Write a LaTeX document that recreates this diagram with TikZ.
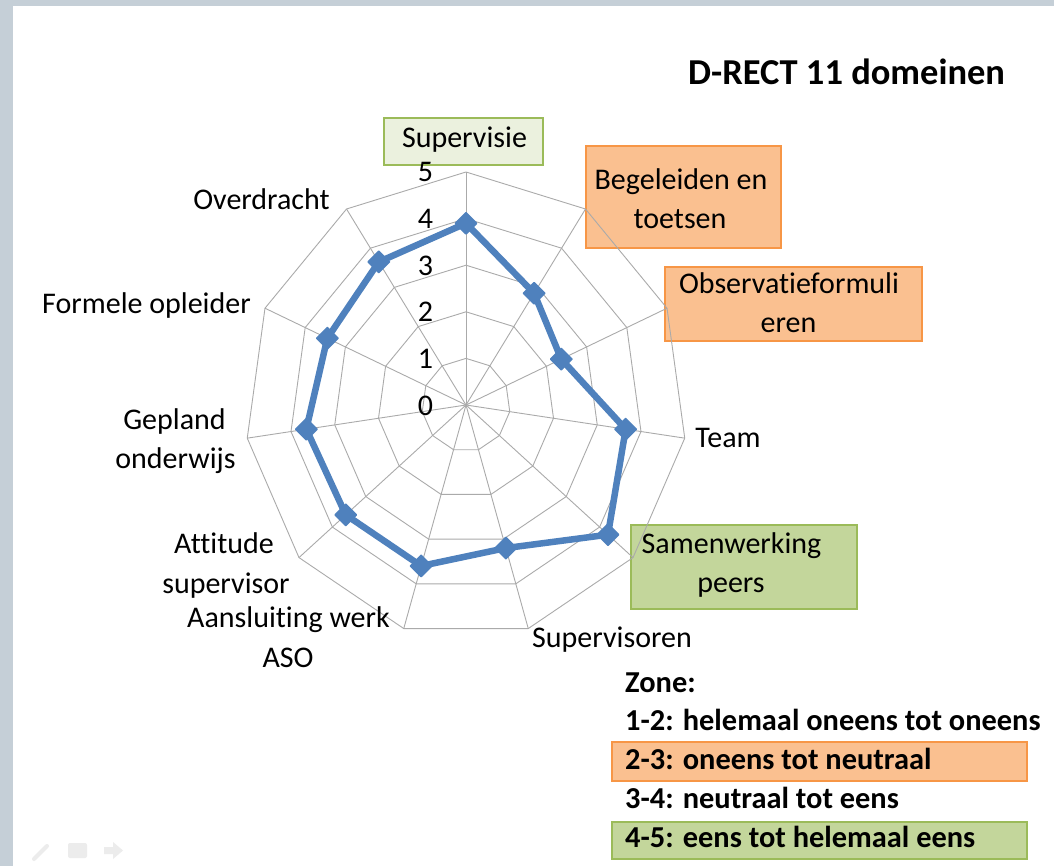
\documentclass[tikz,border=0pt]{standalone}
\usepackage{fontspec}
\setmainfont{Carlito}[RawFeature=-liga]
\usetikzlibrary{shapes.geometric}
\definecolor{frame}{RGB}{197,207,215}
\definecolor{gridc}{RGB}{170,170,170}
\definecolor{serie}{RGB}{79,129,189}
\definecolor{orfill}{RGB}{250,192,144}
\definecolor{ordraw}{RGB}{247,150,70}
\definecolor{grfill}{RGB}{195,214,155}
\definecolor{grlight}{RGB}{235,241,222}
\definecolor{grdraw}{RGB}{155,187,89}
\definecolor{iconc}{RGB}{236,236,236}
\tikzset{
  gridline/.style={draw=gridc, line width=0.9pt},
  dataline/.style={draw=serie, line width=6.5pt, line join=round},
  marker/.style={diamond, fill=serie, draw=serie, line join=round, line width=1.5pt, minimum width=22pt, minimum height=22pt, inner sep=0pt},
  lbl/.style={font=\fontsize{30}{36}\selectfont, inner sep=0pt, anchor=base},
  leg/.style={font=\bfseries\fontsize{30.4}{36}\selectfont, inner sep=0pt, anchor=base west},
  orbox/.style={fill=orfill, draw=ordraw, line width=2.5pt},
  grbox/.style={fill=grfill, draw=grdraw, line width=2.5pt},
  grlbox/.style={fill=grlight, draw=grdraw, line width=2.5pt},
}
\begin{document}
\begin{tikzpicture}[x=1pt,y=-1pt]
\useasboundingbox (0,0) rectangle (1054,866);
\fill[white] (0,0) rectangle (1054,866);
\fill[frame] (0,0) rectangle (1054,6);
\fill[frame] (0,0) rectangle (13,866);
% faint toolbar icons
\draw[iconc, line width=4pt, line cap=round] (34,859) -- (47,846);
\fill[iconc, rounded corners=2pt] (68,843) rectangle (87,858);
\fill[iconc] (104,847) -- (113,847) -- (113,842) -- (123,850.5) -- (113,859) -- (113,854) -- (104,854) -- cycle;

% highlight boxes (behind chart)
\node[grlbox, minimum width=159pt, minimum height=47pt, inner sep=0pt] (bsup) at (463.5,141.5) {};
\node[orbox, minimum width=195pt, minimum height=102pt, inner sep=0pt] (bbeg) at (683.5,197) {};
\node[orbox, minimum width=257pt, minimum height=74pt, inner sep=0pt] (bobs) at (793.5,304) {};
\node[grbox, minimum width=226pt, minimum height=84pt, inner sep=0pt] (bsam) at (744,567) {};
\node[orbox, minimum width=415pt, minimum height=39pt, inner sep=0pt] (bl2) at (819.5,761.5) {};
\node[grbox, minimum width=415pt, minimum height=37pt, inner sep=0pt] (bl4) at (819.5,840.5) {};

% radar grid
\def\cx{466}\def\cy{405}\def\ux{44.2}\def\uy{46.6}
\coordinate (c) at (\cx,\cy);
\foreach \l in {1,...,5}{
  \draw[gridline] plot[samples at={0,...,10}, variable=\k] ({\cx+\l*\ux*cos(90-\k*360/11)},{\cy-\l*\uy*sin(90-\k*360/11)}) -- cycle;
}
\foreach \k in {0,...,10}{
  \coordinate (v\k) at ({\cx+5*\ux*cos(90-\k*360/11)},{\cy-5*\uy*sin(90-\k*360/11)});
  \draw[gridline] (c) -- (v\k);
}
% data
\foreach \v [count=\k from 0] in {3.9,2.85,2.37,3.65,4.25,3.2,3.6,3.6,3.65,3.45,3.65}{
  \coordinate (d\k) at ({\cx+\v*\ux*cos(90-\k*360/11)},{\cy-\v*\uy*sin(90-\k*360/11)});
}
\draw[dataline] (d0) -- (d1) -- (d2) -- (d3) -- (d4) -- (d5) -- (d6) -- (d7) -- (d8) -- (d9) -- (d10) -- cycle;
\foreach \k in {0,...,10}{ \node[marker] (m\k) at (d\k) {}; }

% tick labels
\foreach \t in {0,...,5}{
  \node[lbl] (t\t) at (425.5,{\cy-\t*\uy+10}) {\t};
}

% axis labels
\node[lbl] (lsup) at (464.5,148) {Supervisie};
\node[lbl] (lbeg1) at (681,190) {Begeleiden en};
\node[lbl] (lbeg2) at (680,229) {toetsen};
\node[lbl] (lobs1) at (789,294) {Observatieformuli};
\node[lbl] (lobs2) at (788.5,333) {eren};
\node[lbl] (lteam) at (728,447.5) {Team};
\node[lbl] (lsam1) at (731.5,553) {Samenwerking};
\node[lbl] (lsam2) at (731,592) {peers};
\node[lbl] (lsvr) at (612,647) {Supervisoren};
\node[lbl] (laan1) at (288.5,627) {Aansluiting werk};
\node[lbl] (laan2) at (288,667) {ASO};
\node[lbl] (latt1) at (224,553) {Attitude};
\node[lbl] (latt2) at (226,593) {supervisor};
\node[lbl] (lgep1) at (174.5,429) {Gepland};
\node[lbl] (lgep2) at (175.5,468) {onderwijs};
\node[lbl] (lfor) at (146.5,313) {Formele opleider};
\node[lbl] (love) at (261.5,210) {Overdracht};

% title
\node[font=\bfseries\fontsize{36.5}{43}\selectfont, inner sep=0pt, anchor=base west] (title) at (688,85) {D-RECT 11 domeinen};

% legend
\node[leg] (z0) at (625,692) {Zone:};
\node[leg] (z1) at (625,730) {1-2: helemaal oneens tot oneens};
\node[leg] (z2) at (625,769) {2-3: oneens tot neutraal};
\node[leg] (z3) at (625,808) {3-4: neutraal tot eens};
\node[leg] (z4) at (625,847) {4-5: eens tot helemaal eens};
\end{tikzpicture}
\end{document}
